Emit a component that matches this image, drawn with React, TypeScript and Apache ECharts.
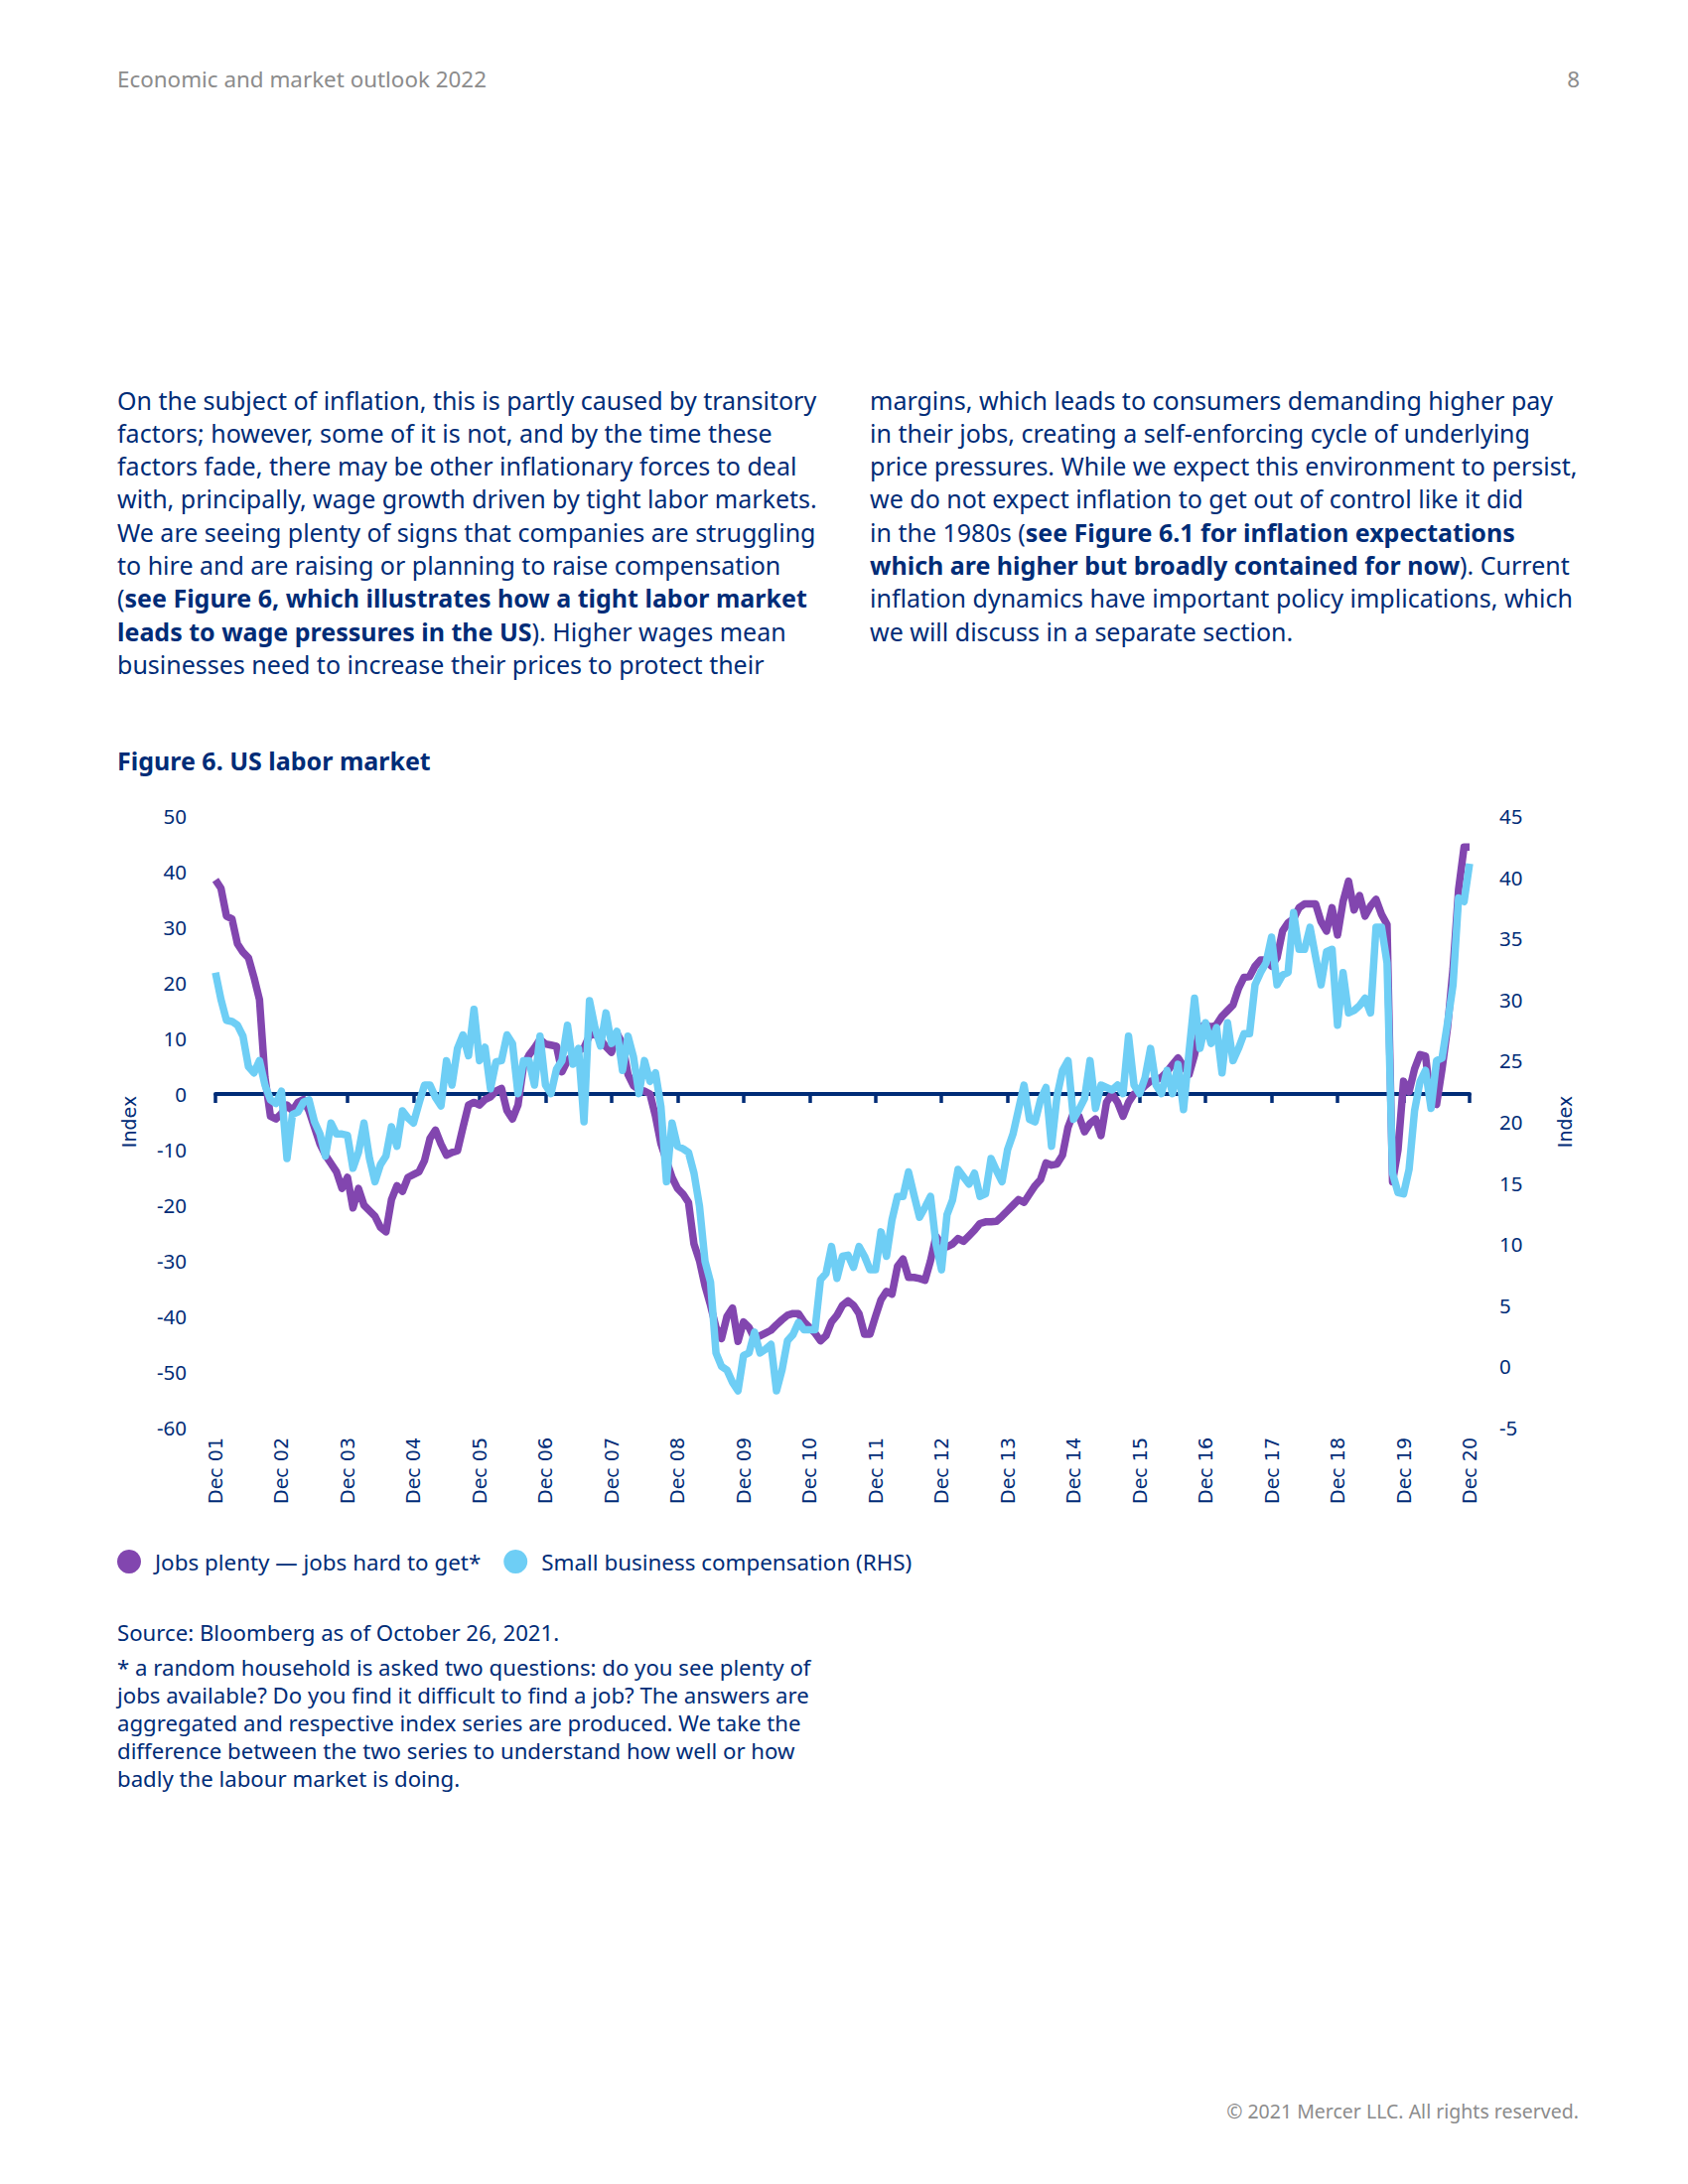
import React, { useEffect, useRef } from "react";
import * as echarts from "echarts";

const NAVY = "#002C77";
const PURPLE = "#8246AF";
const BLUE = "#6ECEF5";
const GREY = "#8C8C8C";

const SERIES_NAMES = ["Jobs plenty \u2014 jobs hard to get*", "Small business compensation (RHS)"];

const YEAR_LABELS = [
  "Dec 01", "Dec 02", "Dec 03", "Dec 04", "Dec 05", "Dec 06", "Dec 07", "Dec 08", "Dec 09", "Dec 10",
  "Dec 11", "Dec 12", "Dec 13", "Dec 14", "Dec 15", "Dec 16", "Dec 17", "Dec 18", "Dec 19", "Dec 20",
];

// Jobs plenty minus jobs hard to get (left axis), monthly from Dec 01
const JOBS_PLENTY = [
  38.5, 37, 32, 31.5, 27, 25.5, 24.5, 21, 17, 3,
  -4, -4.5, -3.5, -2, -3, -1.5, -1, -3, -6, -9,
  -11, -12.5, -14, -17, -15, -20.5, -17, -20, -21, -22,
  -24, -24.8, -19, -16.5, -17.5, -15, -14.5, -14, -12, -8,
  -6.5, -9, -11, -10.5, -10.2, -6, -2, -1.5, -2, -1,
  -0.5, 0.5, 1, -3, -4.5, -2, 5, 7, 8.3, 9.8,
  9, 8.8, 8.6, 4, 6, 7, 7.8, 8.3, 10.5, 10.8,
  9.8, 8.5, 7.5, 10.9, 9, 3.5, 1.5, 0.8, 0.5, 0,
  -4, -9, -12, -15, -17, -18, -19.5, -27, -30, -34.5,
  -38, -42, -44, -40, -38.5, -44.5, -41, -42, -44, -43.5,
  -43, -42.5, -41.5, -40.6, -39.8, -39.5, -39.5, -41, -42, -43,
  -44.4, -43.5, -41, -39.8, -38, -37.2, -38, -39.5, -43.2, -43.2,
  -40, -37, -35.5, -36, -31, -29.7, -33, -33, -33.2, -33.5,
  -30, -25.6, -27, -27.5, -27, -26, -26.5, -25.5, -24.5, -23.3,
  -23, -23, -22.9, -22, -21, -20, -19, -19.5, -18, -16.5,
  -15.4, -12.4, -12.8, -12.6, -11, -6, -3.4, -4, -6.8, -5.3,
  -4.5, -7.5, -1.5, 0, -1.5, -4, -1.5, 0, 0.5, 1.5,
  2.3, 2.5, 3, 4, 5.3, 6.5, 5, 3.5, 7, 12,
  12.5, 12, 12.5, 14, 15, 16, 19, 21, 21.1, 23,
  24.1, 24.1, 23, 24.5, 29.3, 30.8, 31.5, 33.5, 34.2, 34.2,
  34.2, 31, 29.3, 33.5, 28.6, 34.6, 38.3, 33.1, 35.7, 32,
  33.8, 35, 32.3, 30.5, -15.8, -10, 2.3, 0.4, 4.5, 7.1,
  6.8, -1.5, -1.9, 4.5, 12, 22.6, 36.8, 44.4, 44.4,
];

// Small business compensation (right axis), monthly from Dec 01
const SMALL_BIZ = [
  32.2, 30, 28.3, 28.2, 27.9, 27, 24.5, 24, 25, 23,
  21.8, 21.5, 22.5, 17, 20.6, 20.8, 21.6, 21.8, 20, 19,
  17.2, 19.9, 19, 19, 18.9, 16.2, 17.5, 19.9, 17, 15.1,
  16.5, 17.2, 19.6, 18, 20.9, 20.3, 19.9, 21.5, 23, 23,
  22, 21.3, 25, 23, 26, 27.1, 25.4, 29.2, 25, 26.1,
  22.7, 24.9, 25, 27.1, 26.4, 22.3, 25, 25, 23, 27,
  23, 22.3, 24.3, 25, 27.9, 24.7, 26, 20, 29.9, 27.7,
  26.2, 28.9, 26.4, 27.4, 24.2, 27, 25.3, 22.3, 25, 23.3,
  24, 21.2, 15.1, 19.9, 18, 17.8, 17.5, 15.8, 13.1, 8.6,
  6.9, 1.1, 0, -0.3, -1.3, -2, 0.9, 1.1, 2.8, 1.1,
  1.4, 1.8, -2, -0.3, 2.1, 2.6, 3.6, 3, 3, 3,
  7.1, 7.6, 9.8, 7.2, 9, 9.1, 8.1, 9.8, 9, 7.9,
  7.9, 11, 9, 12, 13.9, 13.9, 15.9, 14, 12.2, 13,
  13.9, 10, 7.9, 12.4, 13.6, 16.1, 15.5, 14.9, 15.8, 13.9,
  14.1, 17, 16, 15.1, 17.7, 19, 21, 23, 20.2, 20,
  21.8, 22.8, 18, 22.1, 24.2, 25, 20.2, 21, 21.9, 25,
  21.1, 23, 22.8, 22.6, 23, 22.3, 27, 23, 22.3, 23.6,
  26, 23, 22.3, 24.2, 22.3, 24.7, 21, 25.7, 30.1, 26,
  28.1, 26.4, 27.7, 24, 28.1, 25, 26, 27.2, 27.2, 31.2,
  32.2, 33, 35.1, 31.2, 32, 32.2, 37.1, 34.1, 34.1, 35.9,
  33.5, 31.2, 33.9, 34.1, 27.9, 32.2, 28.9, 29.1, 29.5, 30.1,
  28.9, 35.9, 35.9, 33, 15.8, 14.2, 14.1, 16.1, 20.9, 23.3,
  24.2, 21.1, 25, 25.2, 28.1, 31.2, 38.3, 38, 41.1,
];

const LEFT_TICKS = { min: -60, max: 50, interval: 10 };
const RIGHT_TICKS = { min: -5, max: 45, interval: 5 };

const LEFT_PARA: React.ReactNode[] = [
  "On the subject of inflation, this is partly caused by transitory",
  "factors; however, some of it is not, and by the time these",
  "factors fade, there may be other inflationary forces to deal",
  "with, principally, wage growth driven by tight labor markets.",
  "We are seeing plenty of signs that companies are struggling",
  "to hire and are raising or planning to raise compensation",
  <>(<b>see Figure 6, which illustrates how a tight labor market</b></>,
  <><b>leads to wage pressures in the US</b>). Higher wages mean</>,
  "businesses need to increase their prices to protect their",
];

const RIGHT_PARA: React.ReactNode[] = [
  "margins, which leads to consumers demanding higher pay",
  "in their jobs, creating a self-enforcing cycle of underlying",
  "price pressures. While we expect this environment to persist,",
  "we do not expect inflation to get out of control like it did",
  <>in the 1980s (<b>see Figure 6.1 for inflation expectations</b></>,
  <><b>which are higher but broadly contained for now</b>). Current</>,
  "inflation dynamics have important policy implications, which",
  "we will discuss in a separate section.",
];

const FOOTNOTE = [
  "* a random household is asked two questions: do you see plenty of",
  "jobs available? Do you find it difficult to find a job? The answers are",
  "aggregated and respective index series are produced. We take the",
  "difference between the two series to understand how well or how",
  "badly the labour market is doing.",
];

const CHART_TOP = 780;

function Chart() {
  const ref = useRef<HTMLDivElement>(null);
  useEffect(() => {
    if (!ref.current) return;
    const chart = echarts.init(ref.current, undefined, { renderer: "svg" });
    const lastX = (YEAR_LABELS.length - 1) * 12;
    chart.setOption({
      animation: false,
      textStyle: { fontFamily: "Noto Sans" },
      legend: {
        left: 118,
        top: 1561 - CHART_TOP,
        icon: "circle",
        itemWidth: 24,
        itemHeight: 24,
        itemGap: 23,
        padding: 0,
        textStyle: { fontSize: 22.4, color: NAVY, fontFamily: "Noto Sans", padding: [0, 0, 0, 9] },
        data: SERIES_NAMES,
      },
      grid: { left: 217, top: 822 - CHART_TOP, width: 1263, height: 616 },
      xAxis: [
        {
          type: "value",
          min: 0,
          max: lastX,
          interval: 12,
          axisLine: { show: true, onZero: true, onZeroAxisIndex: 0, lineStyle: { color: NAVY, width: 4 } },
          axisTick: { show: true, length: 9, lineStyle: { color: NAVY, width: 3.5 } },
          axisLabel: { show: false },
          splitLine: { show: false },
        },
        {
          type: "value",
          min: 0,
          max: lastX,
          interval: 12,
          position: "bottom",
          axisLine: { show: false, onZero: false },
          axisTick: { show: false },
          splitLine: { show: false },
          axisLabel: {
            show: true,
            rotate: 90,
            margin: 10,
            fontSize: 19,
            fontFamily: "DejaVu Sans",
            color: NAVY,
            showMinLabel: true,
            showMaxLabel: true,
            formatter: (v: number) => YEAR_LABELS[Math.round(v / 12)] ?? "",
          },
        },
      ],
      yAxis: [
        {
          type: "value",
          position: "left",
          ...LEFT_TICKS,
          axisLine: { show: false },
          axisTick: { show: false },
          splitLine: { show: false },
          axisLabel: { fontSize: 20.5, color: NAVY, margin: 29 },
          name: "Index",
          nameLocation: "middle",
          nameRotate: 90,
          nameGap: 78,
          nameTextStyle: { fontSize: 19, color: NAVY, fontFamily: "DejaVu Sans" },
        },
        {
          type: "value",
          position: "right",
          ...RIGHT_TICKS,
          axisLine: { show: false },
          axisTick: { show: false },
          splitLine: { show: false },
          axisLabel: { fontSize: 20.5, color: NAVY, margin: 30 },
          name: "Index",
          nameLocation: "middle",
          nameRotate: 90,
          nameGap: 86,
          nameTextStyle: { fontSize: 19, color: NAVY, fontFamily: "DejaVu Sans" },
        },
      ],
      series: [
        {
          name: SERIES_NAMES[0],
          type: "line",
          xAxisIndex: 0,
          yAxisIndex: 0,
          showSymbol: false,
          symbol: "none",
          itemStyle: { color: PURPLE },
          lineStyle: { color: PURPLE, width: 7.5, join: "round" },
          data: JOBS_PLENTY.map((v, i) => [i, v]),
        },
        {
          name: SERIES_NAMES[1],
          type: "line",
          xAxisIndex: 0,
          yAxisIndex: 1,
          showSymbol: false,
          symbol: "none",
          itemStyle: { color: BLUE },
          lineStyle: { color: BLUE, width: 7.5, join: "round" },
          data: SMALL_BIZ.map((v, i) => [i, v]),
        },
      ],
    });
    return () => chart.dispose();
  }, []);
  return (
    <div
      ref={ref}
      style={{ position: "absolute", left: 0, top: CHART_TOP, width: 1700, height: 840 }}
    />
  );
}

function Line({ x, cy, lh, children, style }: any) {
  return (
    <div
      style={{
        position: "absolute",
        left: x,
        top: cy - lh / 2,
        height: lh,
        lineHeight: lh + "px",
        whiteSpace: "nowrap",
        ...style,
      }}
    >
      {children}
    </div>
  );
}

export default function App() {
  const base: React.CSSProperties = { fontFamily: "'Noto Sans', sans-serif", color: NAVY };
  return (
    <div
      style={{
        position: "absolute",
        left: 0,
        top: 0,
        width: 1700,
        height: 2200,
        background: "#fff",
        overflow: "hidden",
        ...base,
      }}
    >
      <Line x={118} cy={80} lh={30} style={{ fontSize: 22.4, color: GREY }}>
        Economic and market outlook 2022
      </Line>
      <div
        style={{
          position: "absolute",
          right: 1700 - 1591,
          top: 65,
          lineHeight: "30px",
          fontSize: 22.4,
          color: GREY,
        }}
      >
        8
      </div>

      {LEFT_PARA.map((t, i) => (
        <Line key={"l" + i} x={118} cy={403 + i * 33.3} lh={33} style={{ fontSize: 25 }}>
          {t}
        </Line>
      ))}
      {RIGHT_PARA.map((t, i) => (
        <Line key={"r" + i} x={876} cy={403 + i * 33.3} lh={33} style={{ fontSize: 25 }}>
          {t}
        </Line>
      ))}

      <Line x={118} cy={766} lh={32} style={{ fontSize: 25, fontWeight: 700 }}>
        Figure 6. US labor market
      </Line>

      <Chart />

      <Line x={118} cy={1645} lh={28} style={{ fontSize: 22.2 }}>
        Source: Bloomberg as of October 26, 2021.
      </Line>
      {FOOTNOTE.map((t, i) => (
        <Line key={"f" + i} x={118} cy={1680 + i * 28} lh={28} style={{ fontSize: 22.2 }}>
          {t}
        </Line>
      ))}

      <div
        style={{
          position: "absolute",
          right: 1700 - 1590,
          top: 2113,
          lineHeight: "28px",
          fontSize: 19.5,
          color: GREY,
          whiteSpace: "nowrap",
        }}
      >
        © 2021 Mercer LLC. All rights reserved.
      </div>
    </div>
  );
}
